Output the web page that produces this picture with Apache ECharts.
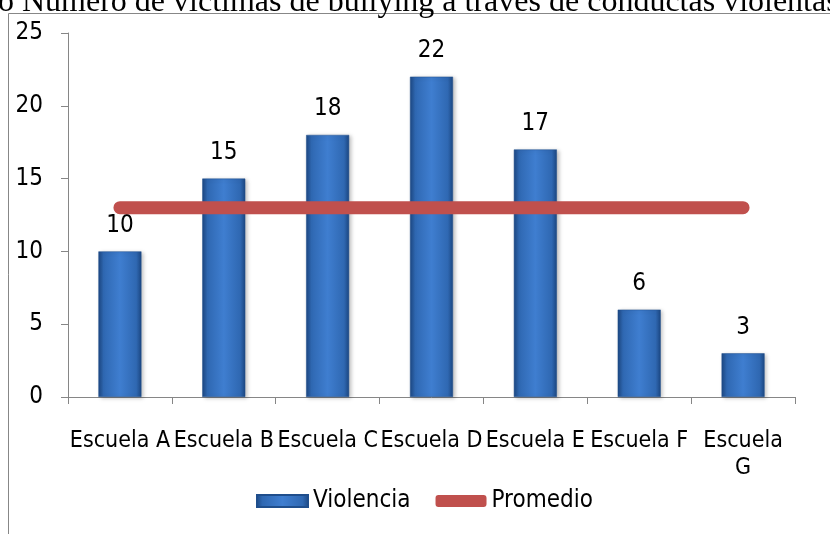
<!DOCTYPE html>
<html>
<head>
<meta charset="utf-8">
<script src="https://cdn.jsdelivr.net/npm/echarts@6/dist/echarts.min.js"></script>
<style>
  html, body { margin: 0; padding: 0; background: #fff; }
  #chart { width: 830px; height: 534px; }
</style>
</head>
<body>
<div id="chart"></div>
<script>
// datos
const categories = ['Escuela A', 'Escuela B', 'Escuela C', 'Escuela D', 'Escuela E', 'Escuela F', 'Escuela G'];
const violencia = [10, 15, 18, 22, 17, 6, 3];
const promedio = [13, 13, 13, 13, 13, 13, 13];
const yTicks = [0, 5, 10, 15, 20, 25];

const font = '"Liberation Sans Narrow", "DejaVu Sans Condensed", "Liberation Sans", sans-serif';

const chart = echarts.init(document.getElementById('chart'));

const barColor = new echarts.graphic.LinearGradient(0, 0, 1, 0, [
  { offset: 0, color: '#1c4782' },
  { offset: 0.12, color: '#2f68b2' },
  { offset: 0.5, color: '#3f7ed0' },
  { offset: 0.88, color: '#2f68b2' },
  { offset: 1, color: '#1c4782' }
]);

chart.setOption({
  animation: false,
  textStyle: { fontFamily: font },
  graphic: [
    {
      type: 'rect',
      shape: { x: 8.5, y: 13.5, width: 900, height: 600 },
      style: { fill: 'none', stroke: '#878787', lineWidth: 1 },
      silent: true
    },
    {
      type: 'text',
      left: -2,
      top: -13,
      style: {
        text: 'o Número de víctimas de bullying a través de conductas violentas',
        font: '32px "Liberation Serif", "Times New Roman", serif',
        fill: '#000'
      },
      silent: true
    }
  ],
  grid: {
    left: 68,
    right: 35,
    top: 33,
    bottom: 137,
    containLabel: false
  },
  legend: {
    left: 251,
    top: 484,
    itemWidth: 51,
    itemHeight: 12,
    itemGap: 25,
    textStyle: { fontFamily: font, fontSize: 24, color: '#000' },
    data: [
      { name: 'Violencia', icon: 'rect' },
      { name: 'Promedio', icon: 'roundRect' }
    ]
  },
  xAxis: {
    type: 'category',
    data: categories,
    axisLine: { lineStyle: { color: '#868686', width: 1 } },
    axisTick: { show: true, length: 7, lineStyle: { color: '#868686' } },
    axisLabel: {
      interval: 0,
      margin: 31,
      fontSize: 23,
      lineHeight: 27,
      color: '#000',
      fontFamily: font,
      formatter: v => v === 'Escuela G' ? 'Escuela\nG' : v
    }
  },
  yAxis: {
    type: 'value',
    min: yTicks[0],
    max: yTicks[yTicks.length - 1],
    interval: 5,
    splitLine: { show: false },
    axisLine: { show: true, lineStyle: { color: '#868686', width: 1 } },
    axisTick: { show: true, length: 7, lineStyle: { color: '#868686' } },
    axisLabel: { fontSize: 24, color: '#000', margin: 25, fontFamily: font }
  },
  series: [
    {
      name: 'Violencia',
      type: 'bar',
      data: violencia,
      barWidth: 43,
      itemStyle: {
        color: barColor,
        borderColor: '#1f4e8c',
        borderWidth: 0.5,
        shadowColor: 'rgba(0,0,0,0.25)',
        shadowBlur: 4,
        shadowOffsetX: 2,
        shadowOffsetY: 1
      },
      label: {
        show: true,
        position: 'top',
        distance: 14,
        fontSize: 24,
        color: '#000',
        fontFamily: font
      },
      z: 2
    },
    {
      name: 'Promedio',
      type: 'line',
      data: promedio,
      symbol: 'none',
      color: '#c0504d',
      lineStyle: { color: '#c0504d', width: 13, cap: 'round' },
      z: 3
    }
  ]
});
</script>
</body>
</html>
